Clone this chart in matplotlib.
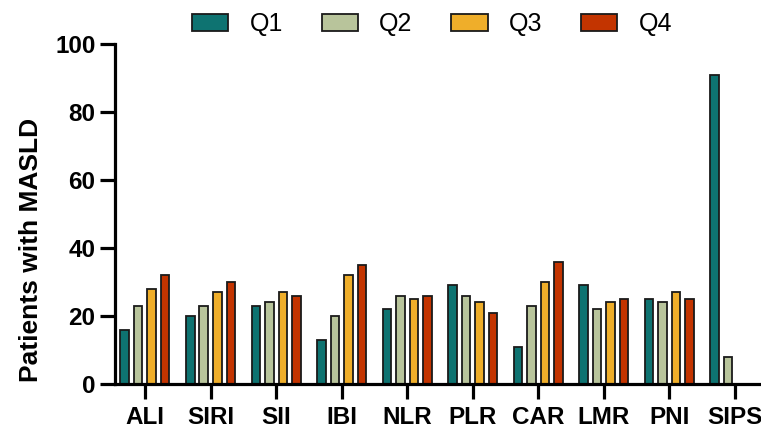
import matplotlib
matplotlib.use("Agg")
import matplotlib.pyplot as plt
import numpy as np

plt.rcParams["font.family"] = ["Liberation Sans", "DejaVu Sans"]

indices = ["ALI", "SIRI", "SII", "IBI", "NLR", "PLR", "CAR", "LMR", "PNI", "SIPS"]
quartiles = ["Q1", "Q2", "Q3", "Q4"]
q1 = [16, 20, 23, 13, 22, 29, 11, 29, 25, 91]
q2 = [23, 23, 24, 20, 26, 26, 23, 22, 24, 8]
q3 = [28, 27, 27, 32, 25, 24, 30, 24, 27, 0]
q4 = [32, 30, 26, 35, 26, 21, 36, 25, 25, 0]
colors = ["#0e7371", "#b8c49b", "#efae2a", "#c33400"]

fig = plt.figure(figsize=(7.61, 4.32), dpi=100)
# the axes run past the right edge of the figure, so the last category is clipped
ax = fig.add_axes([0.1511, 0.1111, 0.875, 0.787])

x = np.arange(len(indices))
pitch = 0.206
width = 0.13
for i, (vals, name, c) in enumerate(zip([q1, q2, q3, q4], quartiles, colors)):
    ax.bar(x + (i - 1.5) * pitch, vals, width=width, color=c,
           edgecolor="#1a1a1a", linewidth=1.3, label=name, zorder=2)

ax.set_xlim(-0.457, 9.7)
ax.set_ylim(0, 100)
ax.set_yticks([0, 20, 40, 60, 80, 100])
ax.set_xticks(x)
ax.set_xticklabels(indices)

for side in ["top", "right"]:
    ax.spines[side].set_visible(False)
for side in ["left", "bottom"]:
    ax.spines[side].set_linewidth(2.3)
    ax.spines[side].set_zorder(3)

ax.tick_params(axis="both", length=11, width=2.3, labelsize=17.5, pad=3)
ax.tick_params(axis="x", pad=5)
for lab in ax.get_xticklabels() + ax.get_yticklabels():
    lab.set_fontweight("bold")

ax.set_ylabel("Patients with MASLD", fontsize=19, fontweight="bold")
ax.yaxis.set_label_coords(-0.108, 0.394)

fig.legend(loc="center", bbox_to_anchor=(0.568, 0.944), ncol=4, frameon=False,
           fontsize=18, handlelength=1.45, handleheight=0.72,
           handletextpad=0.85, columnspacing=1.55)

fig.savefig("out.png", dpi=100)
